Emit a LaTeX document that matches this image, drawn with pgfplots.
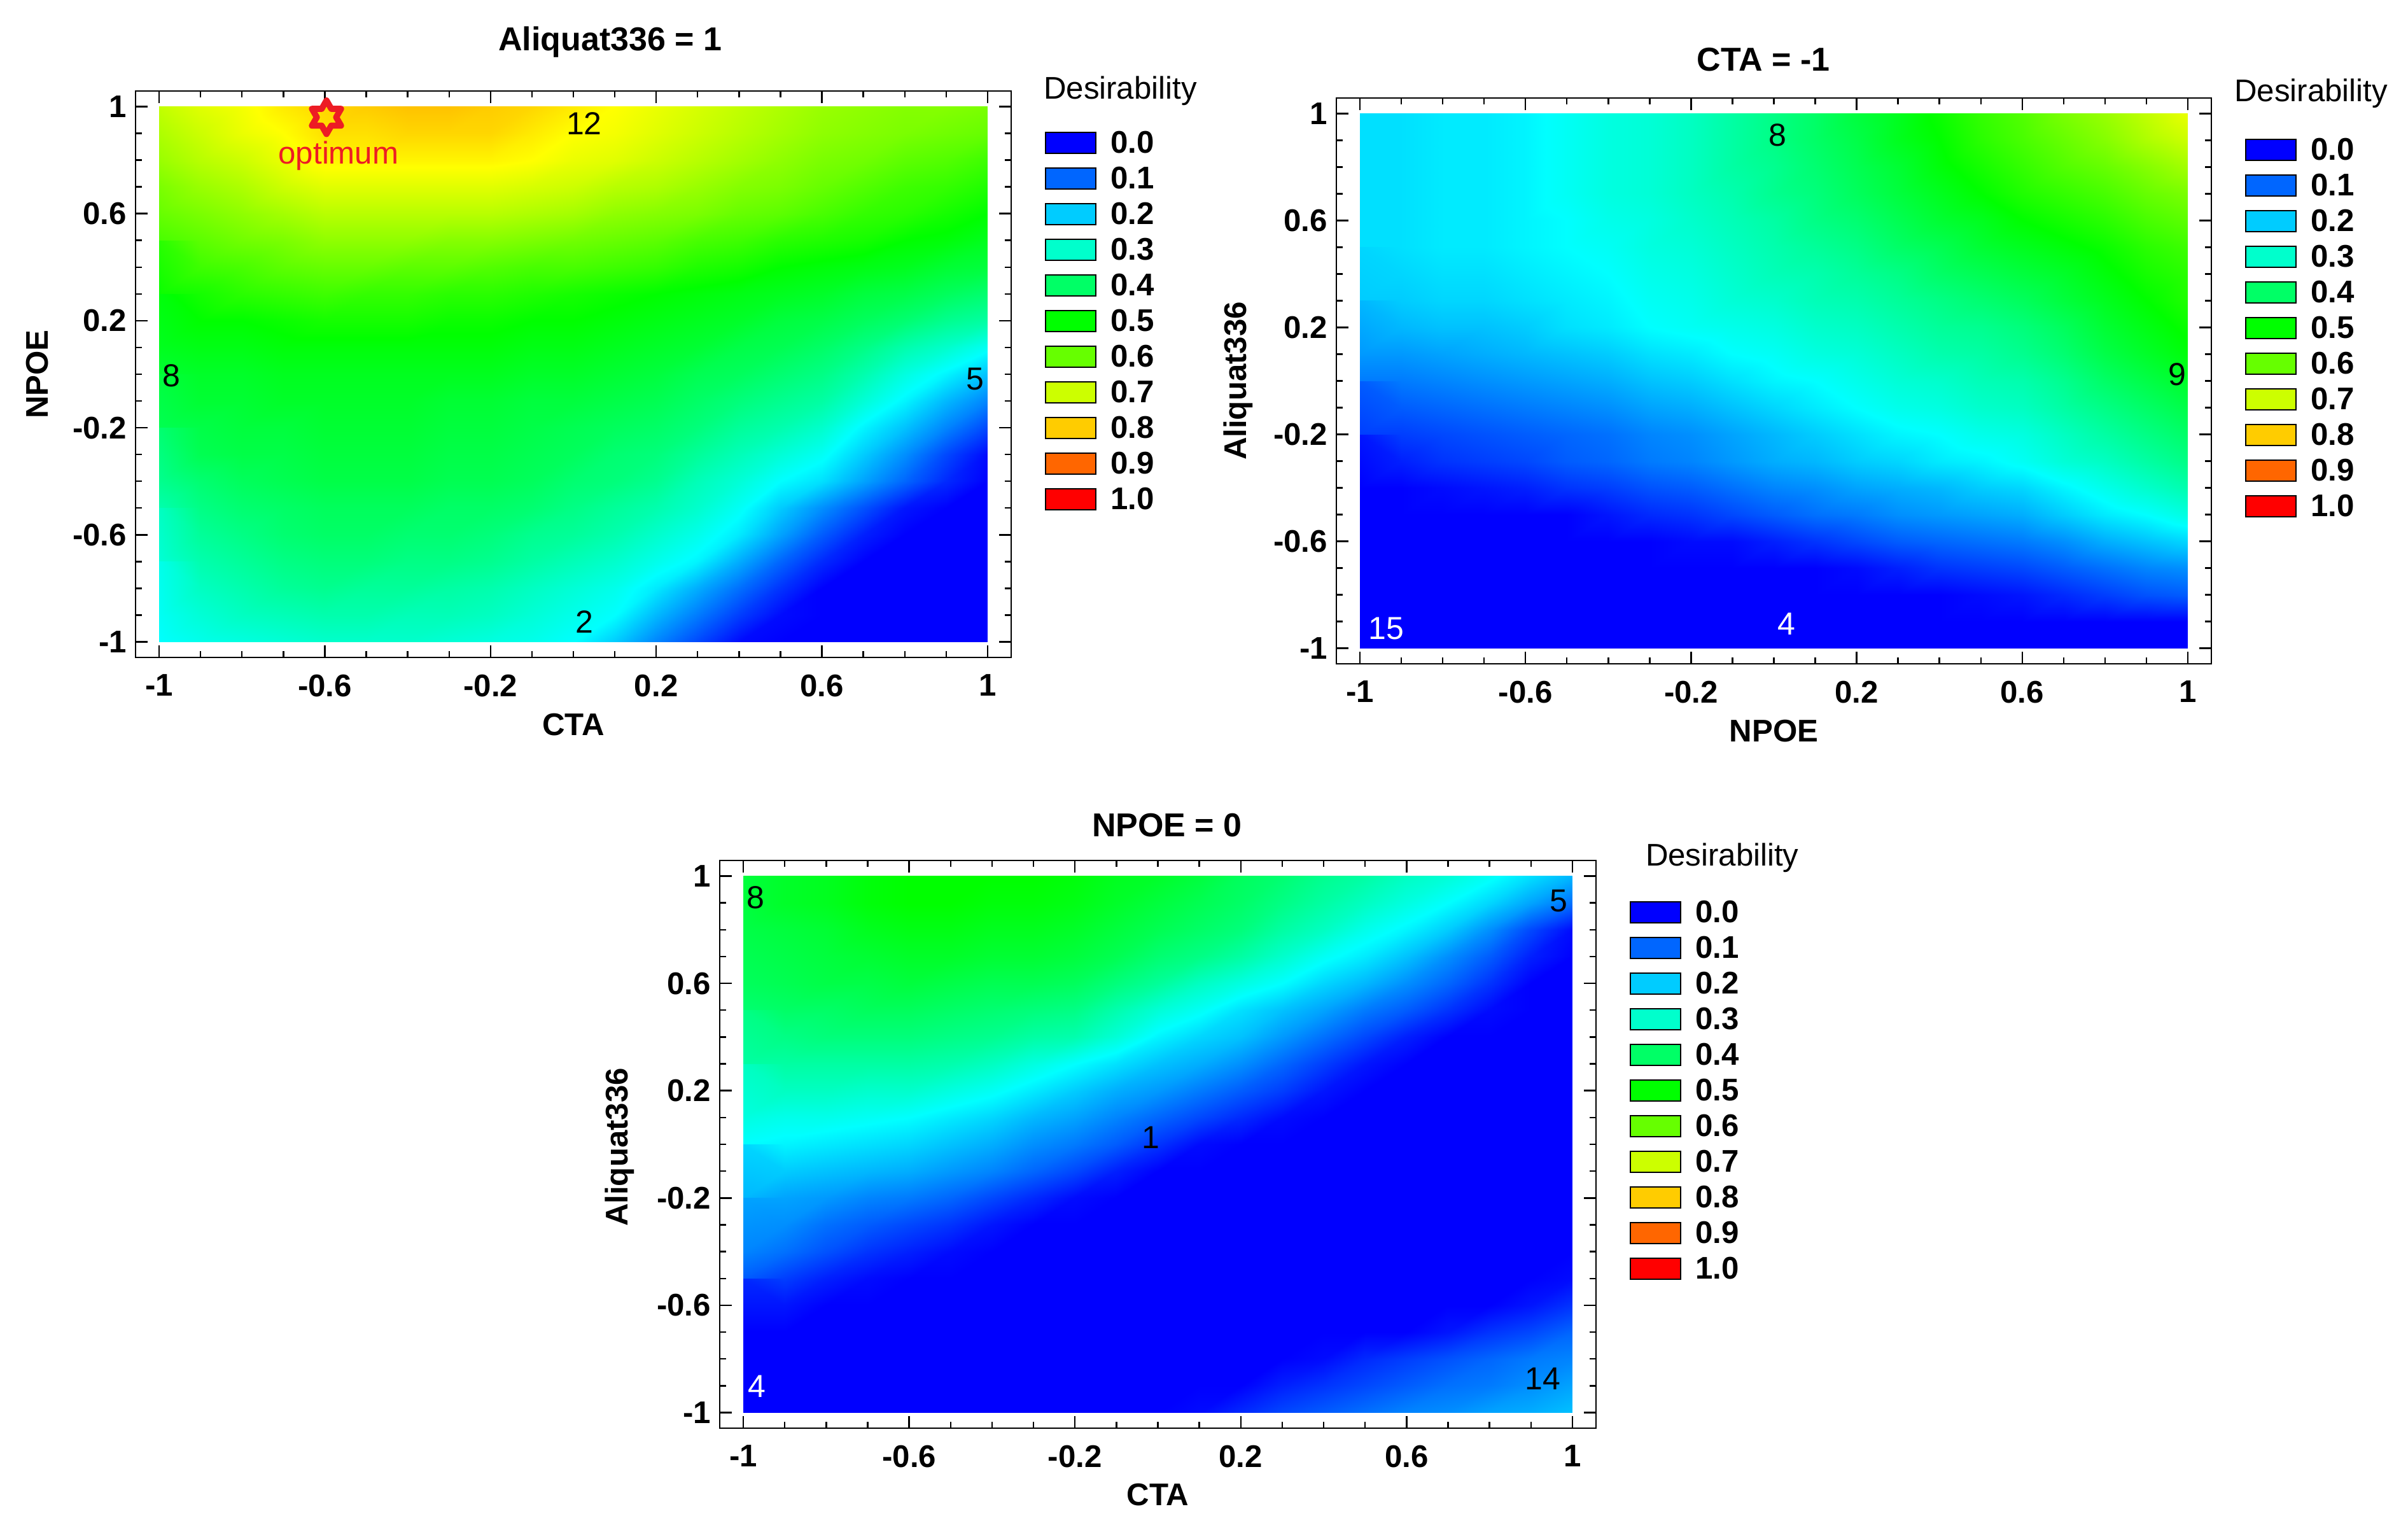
\documentclass[border=0pt]{standalone}
\usepackage{fontspec}
\setmainfont{Liberation Sans}
\usepackage{pgfplots}
\pgfplotsset{compat=1.18}

% legend colours, 0.0 to 1.0
\definecolor{c0}{RGB}{0,0,255}
\definecolor{c1}{RGB}{0,102,255}
\definecolor{c2}{RGB}{0,204,255}
\definecolor{c3}{RGB}{0,255,204}
\definecolor{c4}{RGB}{0,255,102}
\definecolor{c5}{RGB}{0,255,0}
\definecolor{c6}{RGB}{102,255,0}
\definecolor{c7}{RGB}{204,255,0}
\definecolor{c8}{RGB}{255,204,0}
\definecolor{c9}{RGB}{255,102,0}
\definecolor{c10}{RGB}{255,0,0}
\definecolor{optred}{RGB}{237,28,36}

\newcommand{\labfont}{\fontsize{12.3}{14}\selectfont}
\newcommand{\numfont}{\fontsize{12.5}{14}\selectfont}

\pgfdeclareplotmark{hexagram}{%
  \draw[line width=2.4pt,line join=round] (90:6.6pt)--(120:3.8pt)--(150:6.6pt)--(180:3.8pt)--(210:6.6pt)--(240:3.8pt)--(270:6.6pt)--(300:3.8pt)--(330:6.6pt)--(0:3.8pt)--(30:6.6pt)--(60:3.8pt)--cycle;}

\pgfplotsset{
  swatch/.style={legend image code/.code={\draw[fill=#1,draw=black,line width=0.5pt] (0pt,-4.6pt) rectangle (19.75pt,3.6pt);}},
  table/grid21/.style={row sep=\\,header=false,meta index=0,
    x expr={-1+0.1*mod(\coordindex,21)},y expr={1-0.1*floor(\coordindex/21)}},
  heat/.style={surf,shader=interp,mesh/cols=21,point meta=explicit,forget plot},
  panel/.style={
    scale only axis,anchor=south west,clip=false,
    xmin=-1.057,xmax=1.057,ymin=-1.058,ymax=1.058,
    colormap={desir}{rgb255(0cm)=(0,0,255); rgb255(1cm)=(0,255,255); rgb255(2cm)=(0,255,0); rgb255(3cm)=(255,255,0); rgb255(4cm)=(255,0,0)},
    point meta min=0,point meta max=1,
    xtick={-1,-0.6,-0.2,0.2,0.6,1},ytick={-1,-0.6,-0.2,0.2,0.6,1},
    xticklabels={-1,-0.6,-0.2,0.2,0.6,1},yticklabels={-1,-0.6,-0.2,0.2,0.6,1},
    minor tick num=3,tick align=inside,
    major tick length=4.75pt,minor tick length=2.5pt,
    tick style={black,line width=0.6pt},
    axis line style={line width=0.7pt},
    tick label style={font=\labfont\bfseries},
    xticklabel style={yshift=-3.2pt},
    label style={font=\labfont\bfseries},
    title style={font=\fontsize{13}{15}\selectfont\bfseries},
    legend cell align=left,
    legend style={font=\labfont\bfseries,draw=none,fill=none,inner sep=0pt,anchor=north west,at={(1.038,0.932)},
      row sep=4.65pt,column sep=5.5pt,nodes={inner sep=0pt,text height=9pt,text depth=0pt}},
  }
}

\newcommand{\desirkey}{%
  \addlegendimage{swatch=c0}\addlegendentry{0.0}
  \addlegendimage{swatch=c1}\addlegendentry{0.1}
  \addlegendimage{swatch=c2}\addlegendentry{0.2}
  \addlegendimage{swatch=c3}\addlegendentry{0.3}
  \addlegendimage{swatch=c4}\addlegendentry{0.4}
  \addlegendimage{swatch=c5}\addlegendentry{0.5}
  \addlegendimage{swatch=c6}\addlegendentry{0.6}
  \addlegendimage{swatch=c7}\addlegendentry{0.7}
  \addlegendimage{swatch=c8}\addlegendentry{0.8}
  \addlegendimage{swatch=c9}\addlegendentry{0.9}
  \addlegendimage{swatch=c10}\addlegendentry{1.0}
}

\begin{document}
\begin{tikzpicture}
\path[use as bounding box] (0pt,0pt) rectangle (946pt,598pt);

% Aliquat336 = 1
\begin{axis}[panel,at={(53.25pt,339.75pt)},width=344pt,height=222.5pt,
  title={Aliquat336 = 1},title style={at={(0.542,1.059)},anchor=center},
  xlabel={CTA},ylabel={NPOE},
  xlabel style={at={(0.5,-0.119)},anchor=center},
  ylabel style={at={(-0.112,0.5)},anchor=center}]
\addplot[heat] table[grid21] {
.69\\.72\\.74\\.77\\.79\\.80\\.81\\.81\\.80\\.79\\.77\\.75\\.73\\.71\\.69\\.67\\.65\\.64\\.63\\.63\\.62\\
.67\\.70\\.73\\.75\\.78\\.78\\.79\\.79\\.79\\.77\\.75\\.74\\.72\\.70\\.68\\.66\\.64\\.63\\.62\\.61\\.60\\
.65\\.68\\.70\\.73\\.76\\.76\\.76\\.76\\.76\\.75\\.73\\.72\\.70\\.68\\.66\\.64\\.62\\.61\\.59\\.58\\.56\\
.62\\.65\\.67\\.70\\.72\\.72\\.72\\.72\\.72\\.71\\.70\\.68\\.67\\.65\\.63\\.62\\.60\\.58\\.56\\.55\\.53\\
.60\\.62\\.64\\.66\\.68\\.68\\.68\\.68\\.68\\.67\\.66\\.64\\.63\\.62\\.60\\.59\\.57\\.55\\.54\\.52\\.50\\
.57\\.59\\.61\\.62\\.64\\.64\\.64\\.63\\.63\\.62\\.61\\.60\\.59\\.57\\.56\\.54\\.53\\.52\\.50\\.49\\.47\\
.54\\.56\\.57\\.59\\.60\\.60\\.59\\.59\\.58\\.57\\.57\\.56\\.55\\.53\\.52\\.50\\.49\\.48\\.47\\.45\\.44\\
.51\\.52\\.54\\.55\\.56\\.55\\.55\\.54\\.54\\.53\\.52\\.51\\.50\\.49\\.48\\.47\\.46\\.44\\.43\\.41\\.39\\
.49\\.50\\.50\\.51\\.52\\.52\\.52\\.51\\.51\\.50\\.50\\.49\\.48\\.47\\.46\\.44\\.43\\.41\\.39\\.36\\.34\\
.47\\.48\\.48\\.49\\.49\\.49\\.49\\.49\\.49\\.48\\.48\\.47\\.46\\.45\\.43\\.42\\.40\\.37\\.33\\.30\\.26\\
.45\\.46\\.46\\.47\\.47\\.47\\.47\\.47\\.47\\.46\\.46\\.45\\.44\\.42\\.41\\.39\\.37\\.33\\.28\\.24\\.19\\
.44\\.45\\.45\\.46\\.46\\.46\\.46\\.45\\.45\\.44\\.44\\.43\\.42\\.40\\.38\\.36\\.34\\.29\\.24\\.18\\.13\\
.42\\.43\\.44\\.44\\.45\\.45\\.45\\.44\\.44\\.43\\.42\\.41\\.40\\.38\\.35\\.33\\.30\\.24\\.19\\.13\\.07\\
.39\\.42\\.43\\.43\\.44\\.44\\.44\\.43\\.43\\.42\\.41\\.39\\.38\\.35\\.32\\.29\\.26\\.20\\.14\\.07\\.01\\
.36\\.39\\.41\\.42\\.43\\.43\\.43\\.42\\.42\\.41\\.39\\.38\\.36\\.32\\.29\\.25\\.22\\.16\\.10\\.04\\0\\
.33\\.37\\.39\\.40\\.41\\.41\\.41\\.40\\.40\\.39\\.37\\.35\\.33\\.30\\.26\\.20\\.14\\.08\\.02\\0\\0\\
.31\\.35\\.37\\.39\\.40\\.40\\.39\\.39\\.38\\.36\\.35\\.33\\.30\\.27\\.23\\.16\\.09\\.03\\0\\0\\0\\
.29\\.33\\.35\\.37\\.38\\.38\\.37\\.37\\.36\\.34\\.32\\.30\\.27\\.24\\.17\\.10\\.04\\0\\0\\0\\0\\
.27\\.31\\.33\\.35\\.36\\.35\\.35\\.34\\.33\\.31\\.29\\.27\\.23\\.17\\.11\\.05\\0\\0\\0\\0\\0\\
.26\\.29\\.31\\.32\\.33\\.33\\.32\\.32\\.31\\.29\\.27\\.25\\.18\\.12\\.06\\.01\\0\\0\\0\\0\\0\\
.25\\.27\\.28\\.29\\.30\\.30\\.30\\.29\\.28\\.27\\.25\\.20\\.13\\.07\\.01\\0\\0\\0\\0\\0\\0\\
};
\addplot[only marks,mark=hexagram,color=optred,forget plot] coordinates {(-0.596,0.96)};
\desirkey
\node[font=\numfont] at (axis cs:0.026,0.937) {12};
\node[font=\numfont] at (axis cs:-0.97,-0.006) {8};
\node[font=\numfont] at (axis cs:0.97,-0.017) {5};
\node[font=\numfont] at (axis cs:0.026,-0.925) {2};
\node[font=\labfont,text=optred] at (axis cs:-0.567,0.816) {optimum};
\node[font=\labfont] at (rel axis cs:1.1246,1.0) {Desirability};
\end{axis}

% CTA = -1
\begin{axis}[panel,at={(525pt,337.25pt)},width=343.75pt,height=222.25pt,
  title={CTA = -1},title style={at={(0.488,1.041)},anchor=center},
  xlabel={NPOE},ylabel={Aliquat336},
  xlabel style={at={(0.5,-0.119)},anchor=center},
  ylabel style={at={(-0.112,0.5)},anchor=center}]
\addplot[heat] table[grid21] {
.22\\.22\\.23\\.23\\.24\\.26\\.28\\.29\\.31\\.34\\.37\\.40\\.44\\.47\\.51\\.55\\.58\\.62\\.65\\.69\\.73\\
.22\\.22\\.23\\.23\\.24\\.26\\.28\\.29\\.31\\.34\\.37\\.40\\.43\\.47\\.50\\.54\\.57\\.60\\.63\\.67\\.70\\
.22\\.22\\.23\\.23\\.24\\.26\\.28\\.29\\.31\\.34\\.36\\.39\\.42\\.45\\.49\\.52\\.55\\.58\\.60\\.63\\.66\\
.22\\.22\\.23\\.23\\.24\\.26\\.28\\.29\\.31\\.33\\.36\\.38\\.41\\.44\\.47\\.50\\.53\\.55\\.57\\.60\\.62\\
.22\\.22\\.23\\.23\\.24\\.25\\.27\\.28\\.30\\.32\\.34\\.37\\.39\\.42\\.45\\.47\\.50\\.52\\.54\\.57\\.59\\
.22\\.22\\.23\\.23\\.24\\.25\\.26\\.28\\.29\\.31\\.33\\.35\\.37\\.40\\.42\\.45\\.47\\.49\\.51\\.54\\.56\\
.21\\.21\\.22\\.22\\.23\\.24\\.25\\.27\\.28\\.30\\.32\\.33\\.35\\.37\\.40\\.42\\.44\\.46\\.49\\.52\\.54\\
.20\\.20\\.21\\.21\\.22\\.23\\.24\\.26\\.27\\.29\\.30\\.32\\.33\\.35\\.37\\.39\\.41\\.44\\.47\\.50\\.53\\
.18\\.18\\.19\\.19\\.20\\.22\\.23\\.25\\.26\\.27\\.28\\.30\\.31\\.33\\.35\\.36\\.38\\.41\\.45\\.48\\.51\\
.15\\.15\\.16\\.17\\.18\\.19\\.20\\.22\\.23\\.25\\.26\\.28\\.29\\.31\\.33\\.34\\.36\\.39\\.43\\.46\\.49\\
.12\\.12\\.13\\.14\\.15\\.16\\.17\\.19\\.20\\.22\\.24\\.25\\.27\\.29\\.30\\.32\\.33\\.36\\.40\\.43\\.46\\
.09\\.09\\.10\\.11\\.12\\.13\\.14\\.16\\.17\\.19\\.21\\.23\\.25\\.27\\.28\\.30\\.31\\.34\\.37\\.40\\.43\\
.06\\.06\\.07\\.08\\.09\\.10\\.11\\.13\\.14\\.16\\.18\\.20\\.22\\.24\\.25\\.27\\.28\\.31\\.34\\.37\\.40\\
.02\\.03\\.05\\.06\\.07\\.09\\.10\\.12\\.13\\.15\\.17\\.18\\.20\\.21\\.23\\.24\\.26\\.29\\.31\\.34\\.37\\
0\\0\\.01\\.02\\.03\\.05\\.06\\.08\\.09\\.11\\.13\\.14\\.16\\.17\\.18\\.20\\.21\\.24\\.27\\.30\\.33\\
0\\0\\0\\0\\0\\0\\.02\\.04\\.05\\.07\\.09\\.11\\.12\\.14\\.15\\.16\\.17\\.20\\.23\\.25\\.28\\
0\\0\\0\\0\\0\\0\\0\\0\\.01\\.01\\.03\\.05\\.07\\.09\\.10\\.11\\.12\\.14\\.17\\.19\\.21\\
0\\0\\0\\0\\0\\0\\0\\0\\0\\0\\0\\0\\.01\\.03\\.05\\.06\\.07\\.09\\.11\\.13\\.14\\
0\\0\\0\\0\\0\\0\\0\\0\\0\\0\\0\\0\\0\\0\\0\\.01\\.02\\.04\\.06\\.08\\.09\\
0\\0\\0\\0\\0\\0\\0\\0\\0\\0\\0\\0\\0\\0\\0\\0\\0\\0\\0\\0\\0\\
0\\0\\0\\0\\0\\0\\0\\0\\0\\0\\0\\0\\0\\0\\0\\0\\0\\0\\0\\0\\0\\
};
\desirkey
\node[font=\numfont] at (axis cs:0.009,0.919) {8};
\node[font=\numfont] at (axis cs:0.974,0.025) {9};
\node[font=\numfont,text=white] at (axis cs:-0.937,-0.925) {15};
\node[font=\numfont,text=white] at (axis cs:0.031,-0.908) {4};
\node[font=\labfont] at (rel axis cs:1.114,1.008) {Desirability};
\end{axis}

% NPOE = 0
\begin{axis}[panel,at={(282.75pt,37pt)},width=344.25pt,height=223pt,
  title={NPOE = 0},title style={at={(0.5105,1.035)},anchor=center},
  xlabel={CTA},ylabel={Aliquat336},
  xlabel style={at={(0.5,-0.117)},anchor=center},
  ylabel style={at={(-0.114,0.495)},anchor=center}]
\addplot[heat] table[grid21] {
.44\\.46\\.47\\.49\\.50\\.50\\.50\\.50\\.49\\.47\\.46\\.44\\.41\\.39\\.36\\.34\\.31\\.29\\.26\\.22\\.18\\
.44\\.46\\.47\\.49\\.50\\.50\\.49\\.49\\.48\\.46\\.44\\.42\\.40\\.37\\.34\\.31\\.28\\.25\\.21\\.16\\.11\\
.43\\.44\\.45\\.47\\.48\\.48\\.47\\.47\\.46\\.44\\.42\\.40\\.38\\.34\\.31\\.27\\.24\\.20\\.14\\.07\\.01\\
.42\\.43\\.44\\.45\\.46\\.46\\.45\\.45\\.44\\.42\\.39\\.37\\.34\\.30\\.26\\.23\\.19\\.14\\.09\\.03\\0\\
.41\\.42\\.43\\.43\\.44\\.43\\.42\\.42\\.41\\.38\\.35\\.31\\.28\\.25\\.21\\.18\\.14\\.10\\.05\\0\\0\\
.39\\.40\\.40\\.41\\.41\\.40\\.39\\.38\\.37\\.33\\.29\\.26\\.22\\.19\\.16\\.12\\.09\\.05\\.01\\0\\0\\
.37\\.37\\.38\\.38\\.38\\.37\\.36\\.34\\.33\\.29\\.24\\.21\\.19\\.15\\.11\\.07\\.03\\0\\0\\0\\0\\
.34\\.34\\.34\\.34\\.34\\.33\\.31\\.28\\.25\\.22\\.19\\.17\\.14\\.10\\.06\\.02\\0\\0\\0\\0\\0\\
.31\\.31\\.31\\.30\\.30\\.28\\.26\\.23\\.20\\.17\\.15\\.12\\.09\\.06\\.02\\0\\0\\0\\0\\0\\0\\
.28\\.27\\.27\\.26\\.25\\.23\\.21\\.18\\.16\\.13\\.10\\.07\\.04\\.01\\0\\0\\0\\0\\0\\0\\0\\
.25\\.24\\.23\\.22\\.21\\.19\\.17\\.14\\.12\\.09\\.05\\.01\\0\\0\\0\\0\\0\\0\\0\\0\\0\\
.21\\.20\\.19\\.18\\.17\\.15\\.13\\.10\\.07\\.03\\0\\0\\0\\0\\0\\0\\0\\0\\0\\0\\0\\
.18\\.16\\.15\\.13\\.12\\.10\\.07\\.04\\.01\\0\\0\\0\\0\\0\\0\\0\\0\\0\\0\\0\\0\\
.16\\.14\\.11\\.09\\.07\\.05\\.02\\0\\0\\0\\0\\0\\0\\0\\0\\0\\0\\0\\0\\0\\0\\
.13\\.11\\.08\\.05\\.03\\.01\\0\\0\\0\\0\\0\\0\\0\\0\\0\\0\\0\\0\\0\\0\\0\\
.09\\.06\\.03\\.01\\0\\0\\0\\0\\0\\0\\0\\0\\0\\0\\0\\0\\0\\0\\0\\0\\.01\\
.04\\.02\\0\\0\\0\\0\\0\\0\\0\\0\\0\\0\\0\\0\\0\\0\\0\\0\\0\\.02\\.05\\
0\\0\\0\\0\\0\\0\\0\\0\\0\\0\\0\\0\\0\\0\\0\\0\\0\\.02\\.05\\.07\\.10\\
0\\0\\0\\0\\0\\0\\0\\0\\0\\0\\0\\0\\0\\0\\.01\\.04\\.06\\.08\\.10\\.12\\.13\\
0\\0\\0\\0\\0\\0\\0\\0\\0\\0\\0\\0\\0\\.03\\.05\\.07\\.09\\.11\\.12\\.14\\.16\\
0\\0\\0\\0\\0\\0\\0\\0\\0\\0\\0\\.01\\.04\\.07\\.09\\.11\\.13\\.14\\.16\\.17\\.19\\
};
\desirkey
\node[font=\numfont] at (axis cs:-0.97,0.92) {8};
\node[font=\numfont] at (axis cs:0.967,0.908) {5};
\node[font=\numfont] at (axis cs:-0.017,0.026) {1};
\node[font=\numfont,text=white] at (axis cs:-0.967,-0.903) {4};
\node[font=\numfont] at (axis cs:0.929,-0.874) {14};
\node[font=\labfont] at (rel axis cs:1.144,1.005) {Desirability};
\end{axis}
\end{tikzpicture}
\end{document}
